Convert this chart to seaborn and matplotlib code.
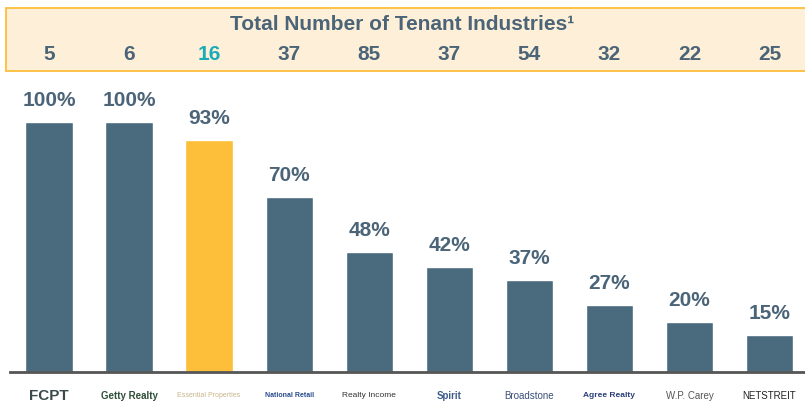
import matplotlib
matplotlib.use("Agg")
import matplotlib.pyplot as plt
import matplotlib.transforms as mtransforms
from matplotlib.patches import Rectangle
import seaborn as sns
import pandas as pd

# Chart data.
companies = ["FCPT", "Getty Realty", "Essential Properties", "National Retail",
             "Realty Income", "Spirit", "Broadstone", "Agree Realty",
             "W.P. Carey", "NETSTREIT"]
top_pct = [100, 100, 93, 70, 48, 42, 37, 27, 20, 15]
industries = [5, 6, 16, 37, 85, 37, 54, 32, 22, 25]
highlight = "Essential Properties"

BAR = "#4A6A7E"
GOLD = "#FDBE3A"
TEXT = "#4B6478"
TEAL = "#1AABB8"

df = pd.DataFrame({"Company": companies, "Pct": top_pct})
palette = {c: (GOLD if c == highlight else BAR) for c in companies}

sns.set_style("white")
plt.rcParams["font.family"] = ["Liberation Sans", "DejaVu Sans"]

W, H = 805, 410
fig = plt.figure(figsize=(W / 100, H / 100), dpi=100)

# Axes: bottom at y=373px, top at y=75px (from top of image).
ax_bottom = (H - 373) / H
ax_top = (H - 75) / H
ax = fig.add_axes([0, ax_bottom, 1, ax_top - ax_bottom])

sns.barplot(data=df, x="Company", y="Pct", hue="Company", palette=palette,
            width=0.59, legend=False, saturation=1, ax=ax)

# Map pixel space so bar centres land near x=49 + 80.05*i.
step = 80.05
ax.set_xlim(-49 / step, (W - 49) / step)
ax.set_ylim(0, (373 - 75) / 2.5)

for s in ["top", "right", "left"]:
    ax.spines[s].set_visible(False)
ax.spines["bottom"].set_color("#555555")
ax.spines["bottom"].set_linewidth(2)
ax.spines["bottom"].set_bounds(-39 / step, (W - 49) / step)
ax.set_xticks([])
ax.set_yticks([])
ax.set_xlabel("")
ax.set_ylabel("")

# Percentage labels above bars.
for i, v in enumerate(top_pct):
    ax.annotate(f"{v}%", (i, v), xytext=(0, 9), textcoords="offset points",
                ha="center", va="bottom", fontsize=15, fontweight="bold",
                color=TEXT)

# Header box with tenant industry counts (drawn behind everything).
fig.patches.append(Rectangle((6 / W, (H - 72) / H), 1.0, 63 / H,
                             transform=fig.transFigure, facecolor="#FEF0D8",
                             edgecolor=GOLD, linewidth=1.3, zorder=-5))
fig.text(0.5, (H - 24) / H, "Total Number of Tenant Industries\u00b9",
         ha="center", va="center", fontsize=15, fontweight="bold", color=TEXT)

blend = mtransforms.blended_transform_factory(ax.transData, fig.transFigure)
for i, n in enumerate(industries):
    col = TEAL if companies[i] == highlight else TEXT
    ax.text(i, (H - 55) / H, str(n), transform=blend, ha="center",
            va="center", fontsize=15, fontweight="bold", color=col,
            zorder=10)

# Company names standing in for the logos.
logo_style = [
    ("#3A4A4A", 11, "bold"), ("#2F4F3A", 7, "bold"), ("#C8B48A", 5, "normal"),
    ("#2A4B8C", 5, "bold"), ("#333333", 6, "normal"), ("#3E5C8A", 7, "bold"),
    ("#3A5078", 7, "normal"), ("#2B3F7A", 6, "bold"), ("#555555", 7, "normal"),
    ("#222222", 7, "normal"),
]
for i, name in enumerate(companies):
    col, size, weight = logo_style[i]
    ax.text(i, (H - 396) / H, name, transform=blend, ha="center", va="center",
            fontsize=size, fontweight=weight, color=col)

fig.savefig("out.png", dpi=100)
